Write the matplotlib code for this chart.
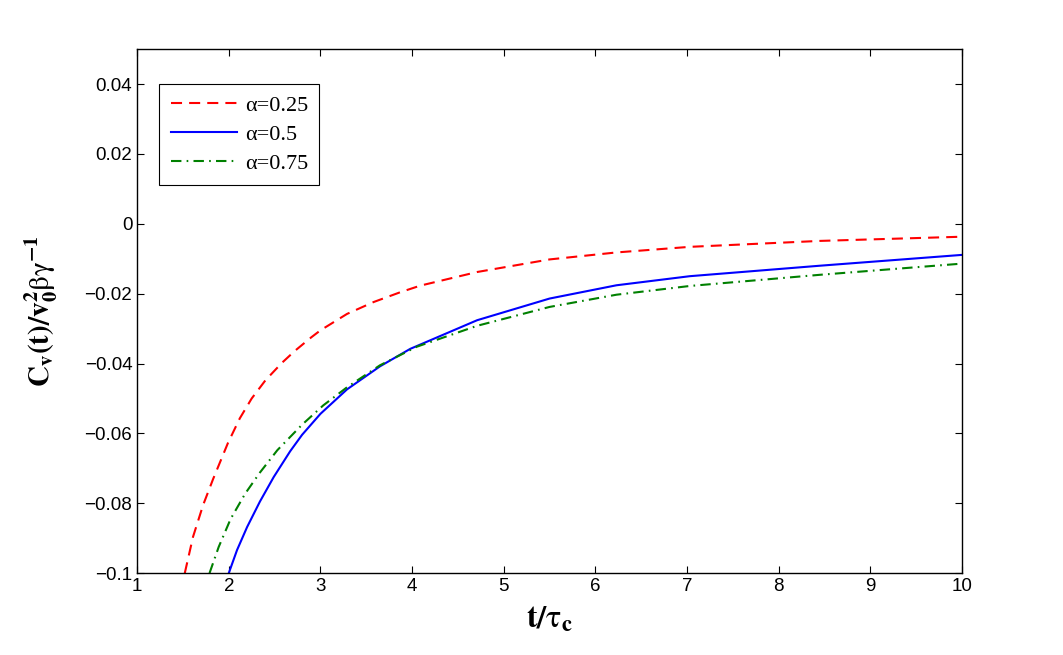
import numpy as np
import matplotlib.pyplot as plt
from matplotlib.ticker import FuncFormatter

# values
t_a025 = [1.52, 1.61, 1.72, 1.83, 1.99, 2.12, 2.25, 2.4, 2.58, 2.72, 2.9, 3.0,
          3.29, 3.58, 3.87, 4.09, 4.71, 5.5, 6.23, 7.03, 8.45, 10.0]
c_a025 = [-0.1, -0.0896, -0.0805, -0.0730, -0.0628, -0.0557, -0.0500, -0.0448,
          -0.0398, -0.0364, -0.0325, -0.0305, -0.0258, -0.0224, -0.0196, -0.0177,
          -0.0138, -0.0102, -0.0082, -0.0066, -0.0049, -0.0037]

t_a05 = [2.0, 2.09, 2.2, 2.34, 2.49, 2.67, 2.8, 3.0, 3.29, 3.65, 3.98, 4.71,
         5.5, 6.23, 7.03, 8.45, 10.0]
c_a05 = [-0.1, -0.0934, -0.0868, -0.0795, -0.0725, -0.0651, -0.0604, -0.0544,
         -0.0474, -0.0408, -0.0358, -0.0276, -0.0214, -0.0176, -0.0150, -0.0120,
         -0.0089]

t_a075 = [1.79, 1.89, 2.02, 2.18, 2.34, 2.53, 2.8, 3.03, 3.29, 3.65, 4.05, 4.71,
          5.5, 6.23, 7.03, 8.45, 10.0]
c_a075 = [-0.1, -0.0925, -0.0845, -0.0772, -0.0712, -0.0648, -0.0575, -0.0520,
          -0.0468, -0.0405, -0.0352, -0.0292, -0.0238, -0.0203, -0.0178, -0.0146,
          -0.0114]

labels = ["α=0.25", "α=0.5", "α=0.75"]
x_ticks = list(range(1, 11))
y_ticks = [-0.1, -0.08, -0.06, -0.04, -0.02, 0, 0.02, 0.04]

plt.rcParams['mathtext.fontset'] = 'stix'

fig = plt.figure(figsize=(10.63, 6.55), dpi=100)
ax = fig.add_axes([0.129, 0.125, 0.776, 0.8])

ax.plot(t_a025, c_a025, color='#ff0000', lw=1.5, dashes=(5.3, 3.4), label=labels[0])
ax.plot(t_a05, c_a05, color='#0000ff', lw=1.5, label=labels[1])
ax.plot(t_a075, c_a075, color='#008000', lw=1.5, dashes=(5, 2.5, 0.8, 2.5), label=labels[2])

ax.set_xlim(1, 10)
ax.set_ylim(-0.1, 0.05)
ax.set_xticks(x_ticks)
ax.set_yticks(y_ticks)
ax.yaxis.set_major_formatter(FuncFormatter(lambda v, p: ('%g' % v).replace('-', '\u2212')))
ax.tick_params(direction='in', length=5, width=0.8, top=True, right=True, labelsize=13.5)
for lab in ax.get_xticklabels() + ax.get_yticklabels():
    lab.set_family('Liberation Sans')
for s in ax.spines.values():
    s.set_linewidth(1.0)

ax.set_xlabel(r'$\mathbf{t/}\mathrm{\tau}_\mathbf{c}$', fontsize=23, labelpad=6)
ax.set_ylabel(r'$\mathbf{C_v(t)/v_0^2}\mathrm{\beta\gamma}^{\mathbf{-1}}$', fontsize=21, labelpad=18)

leg = ax.legend(loc='upper left', bbox_to_anchor=(0.027, 0.933), borderaxespad=0,
                fancybox=False, edgecolor='black', framealpha=1, handlelength=3,
                handletextpad=0.35, labelspacing=0.38, borderpad=0.5,
                prop={'family': 'Liberation Serif', 'size': 16})
leg.get_frame().set_linewidth(0.8)

fig.savefig("out.png", dpi=100)
